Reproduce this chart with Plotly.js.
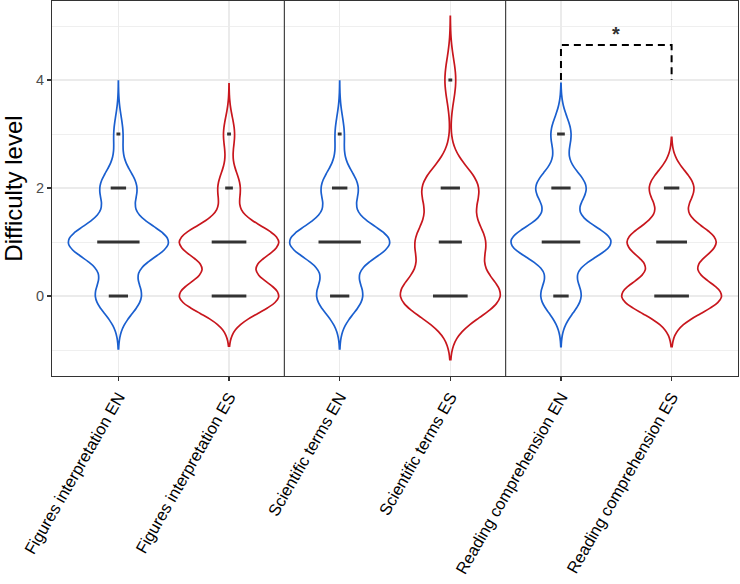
<!DOCTYPE html>
<html>
<head>
<meta charset="utf-8">
<script src="https://cdn.plot.ly/plotly-3.0.1.min.js"></script>
<style>
  html, body { margin: 0; padding: 0; background: #fff; }
  #chart { width: 740px; height: 584px; }
</style>
</head>
<body>
<div id="chart"></div>
<script>
var categories = ['Figures interpretation EN', 'Figures interpretation ES',
                  'Scientific terms EN', 'Scientific terms ES',
                  'Reading comprehension EN', 'Reading comprehension ES'];
var levels = [0, 1, 2, 3, 4];
var countsFigEN  = [5, 11, 4, 1, 0];
var countsFigES  = [9, 9, 2, 1, 0];
var countsSciEN  = [5, 11, 4, 1, 0];
var countsSciES  = [9, 6, 5, 0, 1];
var countsReadEN = [4, 10, 5, 2, 0];
var countsReadES = [9, 8, 4, 0, 0];
// kernel bandwidth of each violin (estimated from how far the tails reach)
var bandwidths = [0.327, 0.31, 0.327, 0.393, 0.313, 0.313];
var language = ['EN', 'ES', 'EN', 'ES', 'EN', 'ES'];

// significance bracket
var sigPair = ['Reading comprehension EN', 'Reading comprehension ES'];
var sigBase = 4.0;
var sigTop = 4.65;
var sigLabel = '*';

var allCounts = [countsFigEN, countsFigES, countsSciEN, countsSciES, countsReadEN, countsReadES];
var colors = {EN: '#1a5fcf', ES: '#c8161d'};

function expand(counts) {  // counts per level -> raw answers
  var out = [];
  counts.forEach(function(c, i) {
    for (var k = 0; k < c; k++) out.push(levels[i]);
  });
  return out;
}

var data = [];

categories.forEach(function(cat, i) {
  var ys = expand(allCounts[i]);
  var bw = bandwidths[i];
  var lo = Math.min.apply(null, ys), hi = Math.max.apply(null, ys);
  data.push({
    type: 'violin',
    x: ys.map(function() { return cat; }),
    y: ys,
    name: cat,
    bandwidth: bw,
    spanmode: 'manual',
    span: [lo - 3 * bw, hi + 3 * bw],   // like ggplot trim = FALSE
    scalegroup: 'all',
    scalemode: 'width',
    width: 0.9,
    points: false,
    box: {visible: false},
    meanline: {visible: false},
    line: {color: colors[language[i]], width: 1.7},
    fillcolor: 'rgba(255,255,255,0)',
    hoverinfo: 'skip'
  });
});

// dashes: one per level, length proportional to the count
var dashX = [], dashY = [], dashSize = [];
categories.forEach(function(cat, i) {
  allCounts[i].forEach(function(c, j) {
    if (c > 0) {
      dashX.push(cat);
      dashY.push(levels[j]);
      dashSize.push(c * 2.75);
    }
  });
});

data.push({
  type: 'scatter',
  mode: 'markers',
  x: dashX,
  y: dashY,
  marker: {symbol: 'line-ew', size: dashSize, color: '#333333', opacity: 1,
           line: {color: '#333333', width: 3}},
  hoverinfo: 'skip'
});

data.push({
  type: 'scatter',
  mode: 'lines',
  x: [sigPair[0], sigPair[0], sigPair[1], sigPair[1]],
  y: [sigBase, sigTop, sigTop, sigBase],
  line: {color: '#000000', width: 2, dash: '7px,5px'},
  hoverinfo: 'skip'
});

var gridCol = '#ebebeb';
var layout = {
  width: 740,
  height: 584,
  margin: {l: 52, r: 2, t: 1, b: 208},
  paper_bgcolor: '#ffffff',
  plot_bgcolor: '#ffffff',
  showlegend: false,
  violinmode: 'overlay',
  font: {family: 'Liberation Sans, Arial, sans-serif', color: '#000000'},
  xaxis: {
    type: 'category',
    categoryorder: 'array',
    categoryarray: categories,
    range: [-0.6, 5.6],
    showgrid: true,
    gridcolor: gridCol,
    gridwidth: 1.6,
    zeroline: false,
    showline: true,
    mirror: true,
    linecolor: '#333333',
    linewidth: 1.1,
    ticks: 'outside',
    ticklen: 4,
    tickwidth: 1.1,
    tickcolor: '#333333',
    tickangle: -60,
    tickfont: {size: 16.5, color: '#000000'}
  },
  yaxis: {
    range: [-1.481, 5.463],
    tick0: 0,
    dtick: 2,
    showgrid: true,
    gridcolor: gridCol,
    gridwidth: 1.6,
    minor: {dtick: 1, tick0: 0, showgrid: true, gridcolor: gridCol, gridwidth: 0.8, ticks: ''},
    zeroline: false,
    showline: true,
    mirror: true,
    linecolor: '#333333',
    linewidth: 1.1,
    ticks: 'outside',
    ticklen: 4,
    tickwidth: 1.1,
    tickcolor: '#333333',
    tickfont: {size: 14.5, color: '#4d4d4d'},
    title: {text: 'Difficulty level', font: {size: 24, color: '#000000'}, standoff: 8}
  },
  shapes: [1.5, 3.5].map(function(xs) {
    return {type: 'line', xref: 'x', yref: 'paper', x0: xs, x1: xs, y0: 0, y1: 1,
            line: {color: '#333333', width: 1.1}};
  }),
  annotations: [{
    xref: 'x', yref: 'y',
    x: 4.5, y: 4.62,
    text: '<b>' + sigLabel + '</b>',
    showarrow: false,
    yanchor: 'bottom',
    font: {size: 20, color: '#333333'}
  }]
};

Plotly.newPlot('chart', data, layout, {displayModeBar: false, staticPlot: true});
</script>
</body>
</html>
